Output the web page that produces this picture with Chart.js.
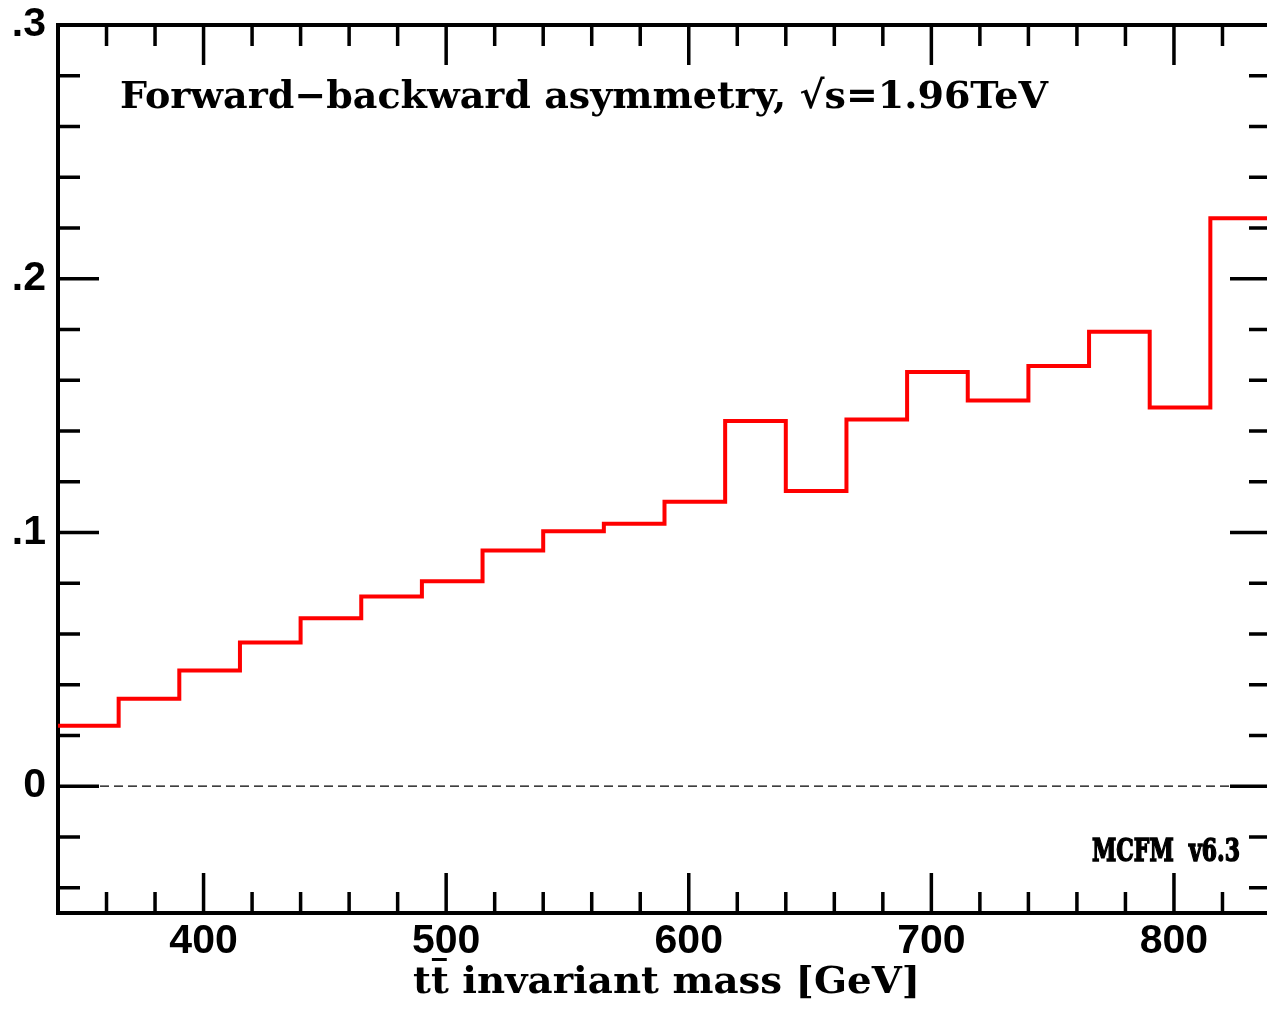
<!DOCTYPE html>
<html>
<head>
<meta charset="utf-8">
<title>Forward-backward asymmetry</title>
<script src="https://cdn.jsdelivr.net/npm/chart.js@4.4.1/dist/chart.umd.min.js"></script>
<style>
  html, body { margin: 0; padding: 0; background: #fff; overflow: hidden; }
  canvas { display: block; }
</style>
</head>
<body>
<canvas id="afb" width="1280" height="1015"></canvas>
<script>
// bin edges in GeV (20 bins of 25 GeV)
const massEdges = [340, 365, 390, 415, 440, 465, 490, 515, 540, 565, 590,
                   615, 640, 665, 690, 715, 740, 765, 790, 815, 840];
// A_FB per bin
const afbValues = [0.0238, 0.0344, 0.0456, 0.0566, 0.0662, 0.0747, 0.0808, 0.0929,
                   0.1005, 0.1034, 0.1121, 0.1439, 0.1163, 0.1445, 0.1632, 0.1520,
                   0.1656, 0.1791, 0.1492, 0.2238];
const xTickValues = [340, 360, 380, 400, 420, 440, 460, 480, 500, 520, 540, 560, 580,
                     600, 620, 640, 660, 680, 700, 720, 740, 760, 780, 800, 820, 840];
const yTickValues = [-0.04, -0.02, 0, 0.02, 0.04, 0.06, 0.08, 0.1, 0.12, 0.14, 0.16,
                     0.18, 0.2, 0.22, 0.24, 0.26, 0.28, 0.3];

const titleText = "Forward\u2212backward asymmetry, \u221As=1.96TeV";
const xTitleText = "tt invariant mass [GeV]";
const versionText = "MCFM  v6.3";

// histogram outline: one point per lower edge, plus the last upper edge
const histPoints = afbValues.map((v, i) => ({ x: massEdges[i], y: v }));
histPoints.push({ x: massEdges[massEdges.length - 1], y: afbValues[afbValues.length - 1] });

const tickFont = { family: '"Liberation Sans", Arial, sans-serif', weight: 'bold', size: 41 };
const slabFont = '"DejaVu Serif", "Liberation Serif", serif';

function isMajorX(v) { return Math.round(v) % 100 === 0; }
function isMajorY(v) { return Math.round(v * 100) % 10 === 0; }

// text squeezed to a given width
function drawFitted(ctx, text, x, y, width, align, outline) {
  const w = ctx.measureText(text).width;
  const sx = width / w;
  ctx.save();
  ctx.translate(x, y);
  ctx.scale(sx, 1);
  ctx.textAlign = 'left';
  ctx.textBaseline = 'alphabetic';
  const x0 = align === 'right' ? -w : 0;
  ctx.fillText(text, x0, 0);
  if (outline) {
    ctx.lineWidth = outline;
    ctx.strokeStyle = ctx.fillStyle;
    ctx.strokeText(text, x0, 0);
  }
  ctx.restore();
  return sx;
}

const framePlugin = {
  id: 'frame',
  beforeDatasetsDraw(chart) {
    const { ctx, chartArea: a, scales: { x, y } } = chart;
    ctx.save();
    // dashed zero line
    const y0 = y.getPixelForValue(0);
    ctx.strokeStyle = '#000';
    ctx.lineWidth = 1.2;
    ctx.setLineDash([9, 5]);
    ctx.beginPath();
    ctx.moveTo(a.left, y0);
    ctx.lineTo(a.right, y0);
    ctx.stroke();
    ctx.setLineDash([]);

    // inward ticks on all four sides
    ctx.lineWidth = 3.5;
    ctx.lineCap = 'butt';
    ctx.beginPath();
    x.ticks.forEach(t => {
      const px = x.getPixelForValue(t.value);
      const len = isMajorX(t.value) ? 40 : 21;
      ctx.moveTo(px, a.bottom); ctx.lineTo(px, a.bottom - len);
      ctx.moveTo(px, a.top); ctx.lineTo(px, a.top + len);
    });
    y.ticks.forEach(t => {
      const py = y.getPixelForValue(t.value);
      const len = isMajorY(t.value) ? 41 : 22;
      ctx.moveTo(a.left, py); ctx.lineTo(a.left + len, py);
      ctx.moveTo(a.right, py); ctx.lineTo(a.right - len, py);
    });
    ctx.stroke();

    ctx.lineWidth = 4;
    ctx.strokeRect(a.left, a.top, a.right - a.left, a.bottom - a.top);
    ctx.restore();
  },
  afterDraw(chart) {
    const { ctx } = chart;
    ctx.save();
    ctx.fillStyle = '#000';

    ctx.font = 'bold 38px ' + slabFont;
    drawFitted(ctx, titleText, 120, 108, 928, 'left');

    // axis title, with the bar over the second t
    ctx.font = 'bold 37px ' + slabFont;
    const left = 413;
    const sx = drawFitted(ctx, xTitleText, left, 993, 507, 'left');
    const t1 = ctx.measureText('t').width * sx;
    const t2 = ctx.measureText('tt').width * sx;
    ctx.fillRect(left + t1 + 1, 958, t2 - t1 - 3, 3);

    ctx.font = 'bold 31px ' + slabFont;
    drawFitted(ctx, versionText, 1240, 861, 148, 'right', 1.6);
    ctx.restore();
  }
};

new Chart(document.getElementById('afb'), {
  type: 'line',
  data: {
    datasets: [{
      data: histPoints,
      stepped: 'before',
      borderColor: '#ff0000',
      borderWidth: 4,
      borderJoinStyle: 'miter',
      pointRadius: 0,
      fill: false
    }]
  },
  options: {
    responsive: false,
    animation: false,
    events: [],
    layout: { padding: { top: 25, right: 9, left: 0, bottom: 0 } },
    plugins: { legend: { display: false }, tooltip: { enabled: false }, title: { display: false } },
    scales: {
      x: {
        type: 'linear',
        min: 340,
        max: 840,
        afterBuildTicks: s => { s.ticks = xTickValues.map(v => ({ value: v })); },
        afterFit: s => { s.height = 102; s.paddingLeft = 0; s.paddingRight = 0; },
        grid: { display: false, drawTicks: false },
        border: { display: false },
        ticks: {
          autoSkip: false,
          maxRotation: 0,
          padding: 4,
          color: '#000',
          font: tickFont,
          callback: v => isMajorX(v) ? String(Math.round(v)) : ''
        }
      },
      y: {
        type: 'linear',
        min: -0.05,
        max: 0.3,
        afterBuildTicks: s => { s.ticks = yTickValues.map(v => ({ value: v })); },
        afterFit: s => { s.width = 58; s.paddingTop = 0; s.paddingBottom = 0; },
        grid: { display: false, drawTicks: false },
        border: { display: false },
        ticks: {
          autoSkip: false,
          padding: 12,
          color: '#000',
          font: tickFont,
          callback: v => {
            const k = Math.round(v * 100);
            if (k % 10 !== 0) return '';
            return k === 0 ? '0' : '.' + (k / 10);
          }
        }
      }
    }
  },
  plugins: [framePlugin]
});
</script>
</body>
</html>
